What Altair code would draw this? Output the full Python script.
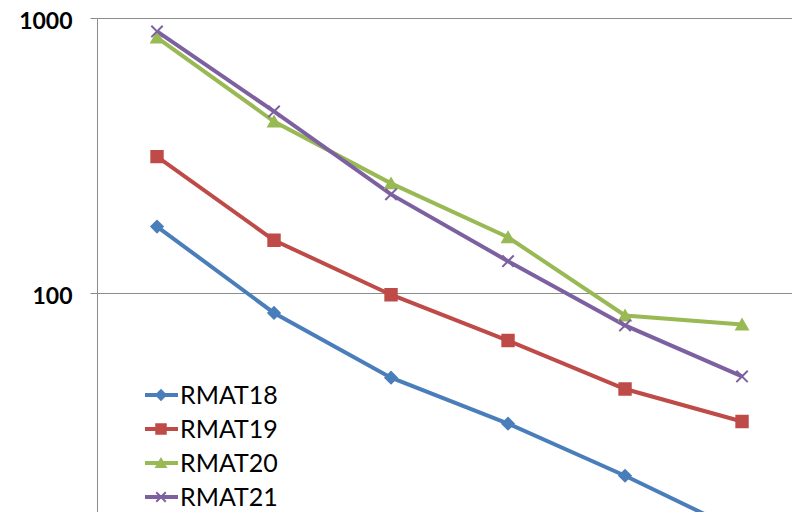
import altair as alt
import pandas as pd

series_names = ["RMAT18", "RMAT19", "RMAT20", "RMAT21"]
positions = [1, 2, 3, 4, 5, 6]
rmat18 = [175, 85, 49.5, 33.7, 21.8, 13.6]
rmat19 = [314, 156, 99, 67.5, 45, 34.3]
rmat20 = [849, 421, 251, 160, 83.2, 77.2]
rmat21 = [894, 458, 229, 131, 76.6, 50]
colors = ["#4A7EBB", "#BE4B48", "#98B954", "#7D60A0"]
shapes = ["diamond", "square", "triangle-up", "M-1,-1L1,1M-1,1L1,-1"]
y_ticks = [100, 1000]

rows = []
for name, vals in zip(series_names, [rmat18, rmat19, rmat20, rmat21]):
    for p, v in zip(positions, vals):
        rows.append({"series": name, "pos": p, "value": v})
df = pd.DataFrame(rows)
legend_df = pd.DataFrame({"series": series_names, "row": list(range(len(series_names)))})

color_scale = alt.Scale(domain=series_names, range=colors)
shape_scale = alt.Scale(domain=series_names, range=shapes)

x_enc = alt.X("pos:Q", scale=alt.Scale(domain=[0.487, 6.427], nice=False, zero=False), axis=None)
y_enc = alt.Y(
    "value:Q",
    scale=alt.Scale(type="log", domain=[10, 1000], nice=False),
    axis=alt.Axis(
        values=y_ticks, format="d", title=None,
        labelFont="Lato", labelFontWeight="bold", labelFontSize=23, labelColor="black",
        labelPadding=18, labelOffset=3, tickSize=7, tickColor="#8C8C8C", domainColor="#8C8C8C",
        gridColor="#8C8C8C", grid=True, gridWidth=1,
    ),
)

lines = alt.Chart(df).mark_line(strokeWidth=4, clip=True).encode(
    x=x_enc, y=y_enc,
    color=alt.Color("series:N", scale=color_scale, legend=None),
    order="pos:Q",
)
points = alt.Chart(df).mark_point(filled=True, size=130, strokeWidth=2, opacity=1, clip=True).encode(
    x=x_enc, y=y_enc,
    fill=alt.Fill("series:N", scale=color_scale, legend=None),
    stroke=alt.Stroke("series:N", scale=color_scale, legend=None),
    shape=alt.Shape("series:N", scale=shape_scale, legend=None),
)

ly = alt.Y("row:Q", scale=alt.Scale(domain=[0, 3], range=[377, 479]), axis=None)
leg_line = alt.Chart(legend_df).mark_rule(strokeWidth=4).encode(
    x=alt.value(48), x2=alt.value(81), y=ly,
    color=alt.Color("series:N", scale=color_scale, legend=None),
)
leg_pt = alt.Chart(legend_df).mark_point(filled=True, size=90, strokeWidth=2, opacity=1).encode(
    x=alt.value(64), y=ly,
    fill=alt.Fill("series:N", scale=color_scale, legend=None),
    stroke=alt.Stroke("series:N", scale=color_scale, legend=None),
    shape=alt.Shape("series:N", scale=shape_scale, legend=None),
)
leg_txt = alt.Chart(legend_df).mark_text(
    align="left", baseline="middle", font="Lato", fontSize=25, color="black", dy=1
).encode(x=alt.value(83), y=ly, text="series:N")

main = alt.layer(lines, points)
legend = alt.layer(leg_line, leg_pt, leg_txt)

chart = alt.layer(main, legend).resolve_scale(y="independent").properties(
    width=695, height=551,
    autosize=alt.AutoSizeParams(type="none"),
    padding={"left": 89, "top": 10, "right": 0, "bottom": 0},
    background="white",
).configure_view(stroke=None)

chart.save("out.html", embed_options={"renderer": "svg", "actions": False})
